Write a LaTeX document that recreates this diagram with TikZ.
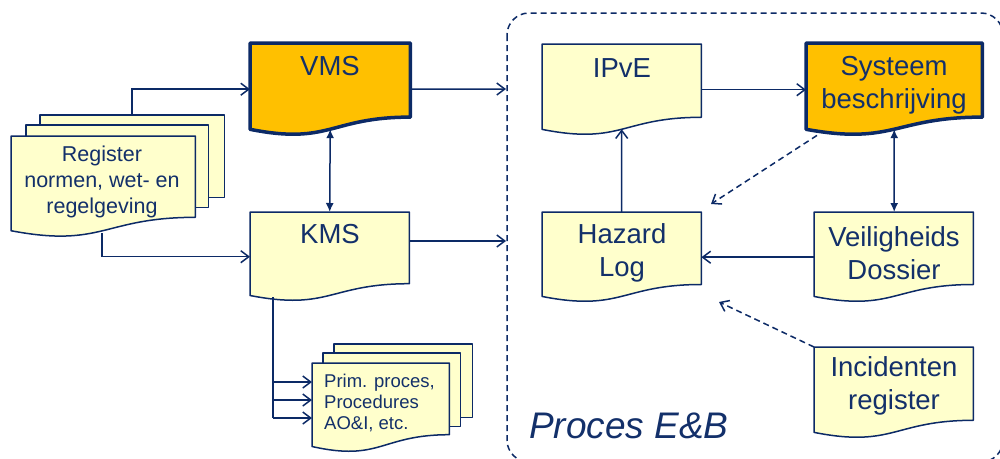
\documentclass[tikz,border=0pt]{standalone}
\usepackage{fontspec}
\setmainfont{Liberation Sans}
\usetikzlibrary{arrows.meta,calc}
\definecolor{navy}{HTML}{0C2A66}
\definecolor{txtc}{HTML}{13306A}
\definecolor{paleY}{HTML}{FFFFCC}
\definecolor{orng}{HTML}{FFC000}
\newcommand\docpath[1]{(#1.north west) -- (#1.north east) -- ($(#1.north east)!0.802!(#1.south east)$) .. controls ($(#1.north)!0.802!(#1.south)$) and ($(#1.north)!1.107!(#1.south)$) .. ($(#1.north west)!0.934!(#1.south west)$) -- cycle}
\tikzset{
  box/.style={draw=none,rectangle,inner sep=0pt,anchor=north west},
  thindoc/.style={fill=paleY,draw=navy,line width=1.5pt,line join=round},
  thickdoc/.style={fill=orng,draw=navy,line width=3.5pt,line join=round},
  big/.style={text=txtc,font=\fontsize{27.5}{33}\selectfont,align=center,inner sep=0pt},
  mid/.style={text=txtc,font=\fontsize{21.5}{26}\selectfont,align=center,inner sep=0pt},
  small/.style={text=txtc,font=\fontsize{18.5}{21}\selectfont,align=left,inner sep=0pt},
  arr/.style={draw=navy,line width=1.5pt,-{Straight Barb[length=8pt,width=12pt]}},
  dbl/.style={draw=navy,line width=1.5pt,{Latex[length=9pt,width=8pt]}-{Latex[length=9pt,width=8pt]}},
  darr/.style={arr,dash pattern=on 6pt off 4pt},
  ln/.style={draw=navy,line width=1.5pt}
}
\begin{document}
\begin{tikzpicture}[x=1pt,y=-1pt]
\useasboundingbox (0,0) rectangle (1000,458);
% dashed process box
\draw[navy,line width=1.5pt,dash pattern=on 6pt off 4pt,rounded corners=22pt] (507,13) rectangle (1003,462);
% shape boxes
\node[box,minimum width=160pt,minimum height=92pt] (vms) at (250,43) {};
\node[box,minimum width=159pt,minimum height=89pt] (kms) at (250,212) {};
\node[box,minimum width=184pt,minimum height=82pt] (regb) at (40,115) {};
\node[box,minimum width=182pt,minimum height=82pt] (regm) at (26,125) {};
\node[box,minimum width=184pt,minimum height=101pt] (reg) at (11,136) {};
\node[box,minimum width=138pt,minimum height=73pt] (primb) at (334,344) {};
\node[box,minimum width=137pt,minimum height=73pt] (primm) at (323,353) {};
\node[box,minimum width=137pt,minimum height=89pt] (prim) at (312,363) {};
\node[box,minimum width=159pt,minimum height=91pt] (ipve) at (542,44) {};
\node[box,minimum width=176pt,minimum height=92pt] (sys) at (806,43) {};
\node[box,minimum width=159pt,minimum height=90pt] (haz) at (542,212) {};
\node[box,minimum width=159pt,minimum height=90pt] (veil) at (814,212) {};
\node[box,minimum width=159pt,minimum height=91pt] (inc) at (814,347) {};
% shapes
\path[thindoc] (regb.north west) rectangle (regb.south east);
\path[thindoc] (regm.north west) rectangle (regm.south east);
\path[thindoc] \docpath{reg};
\path[thindoc] (primb.north west) rectangle (primb.south east);
\path[thindoc] (primm.north west) rectangle (primm.south east);
\path[thindoc] \docpath{prim};
\path[thickdoc] \docpath{vms};
\path[thindoc] \docpath{kms};
\path[thindoc] \docpath{ipve};
\path[thickdoc] \docpath{sys};
\path[thindoc] \docpath{haz};
\path[thindoc] \docpath{veil};
\path[thindoc] \docpath{inc};
% texts
\node[big] (vmst) at (330,66) {VMS};
\node[big] (kmst) at (330,234) {KMS};
\node[mid] (regt) at (102,182) {Register\\normen, wet- en\\regelgeving};
\node[small,anchor=west] (primt) at (324,403) {Prim. proces,\\Procedures\\AO\&I, etc.};
\node[big] (ipvet) at (622,68) {IPvE};
\node[big] (syst) at (894,85) {Systeem\\beschrijving};
\node[big] (hazt) at (622,253) {Hazard\\Log};
\node[big] (veilt) at (894,253) {Veiligheids\\Dossier};
\node[big] (inct) at (894,386) {Incidenten\\register};
\node[text=txtc,font=\fontsize{37}{40}\selectfont\itshape,inner sep=0pt,anchor=base west] (proc) at (529,438) {Proces E\&B};
% connector coordinates
\coordinate (e1) at (506,89);
\coordinate (e2) at (506,241);
\coordinate (kb) at (273,297);
\coordinate (d1) at (711,204);
\coordinate (d2) at (719,302);
% connectors
\draw[arr] ($(regb.north west)+(92,0)$) |- (vms.west);
\draw[arr] ($(reg.south west)+(91,-4)$) |- (kms.west);
\draw[dbl] ($(vms.north)!0.933!(vms.south)$) -- (kms.north);
\draw[arr] (vms.east) -- (e1);
\draw[arr] (e2 -| kms.east) -- (e2);
\draw[ln] (kb) -- ($(prim.north west)+(-39,55)$);
\draw[arr] ($(prim.north west)+(-39,19)$) -- ($(prim.north west)+(0,19)$);
\draw[arr] ($(prim.north west)+(-39,37)$) -- ($(prim.north west)+(0,37)$);
\draw[arr] ($(prim.north west)+(-39,55)$) -- ($(prim.north west)+(0,55)$);
\draw[arr] (ipve.east) -- (sys.west |- ipve.east);
\draw[arr] (haz.north) -- ($(ipve.north)!0.933!(ipve.south)$);
\draw[dbl] ($(sys.north)!0.933!(sys.south)$) -- (sys.north |- veil.north);
\draw[arr] (veil.west) -- (haz.east |- veil.west);
\draw[darr] ($(sys.south west)+(11,0)$) -- (d1);
\draw[darr] (inc.north west) -- (d2);
\end{tikzpicture}
\end{document}
